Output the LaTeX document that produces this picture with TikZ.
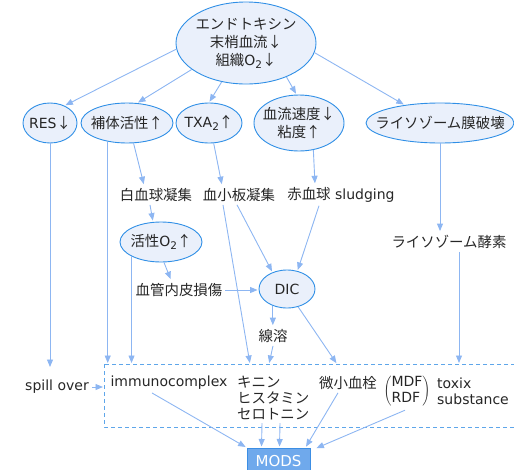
\documentclass[tikz,border=0pt]{standalone}
\usepackage{fontspec}
\setmainfont{DejaVu Sans}
\newfontfamily\jp{Noto Sans CJK JP}[Scale=1.03]
\usetikzlibrary{arrows.meta,shapes.geometric,calc}
\definecolor{linkc}{HTML}{8DB6F2}
\definecolor{ellline}{HTML}{2F8FE6}
\definecolor{ellfill}{HTML}{EAF0FB}
\definecolor{modsfill}{HTML}{6FA9EC}
\definecolor{modsline}{HTML}{3C8EE4}
\definecolor{dashc}{HTML}{5EA6EA}
\definecolor{txtc}{HTML}{262626}
\newcommand{\subtwo}{\raisebox{-0.35ex}{\fontsize{10.5}{10.5}\selectfont 2}}
\newcommand{\Otwo}{{\rmfamily O\subtwo}}
\begin{document}
\begin{tikzpicture}[x=1pt,y=-1pt, font=\fontsize{14}{18}\selectfont, text=txtc,
  ell/.style={ellipse, draw=ellline, fill=ellfill, line width=0.9pt, inner sep=0pt},
  lbl/.style={align=center, inner sep=0pt, text=txtc},
  txt/.style={inner sep=3pt, align=center},
  conn/.style={draw=linkc, line width=0.9pt, -{Triangle[length=7.5pt,width=6pt]}, shorten >=1pt},
]
\useasboundingbox (0,0) rectangle (514,469);
\clip (0,0) rectangle (514,469);

% ellipse nodes
\node[ell, minimum width=140pt, minimum height=82pt,
  label={[lbl]center:{\jp エンドトキシン\\\jp 末梢血流↓\\\jp 組織\Otwo↓}}] (top) at (246,43) {};
\node[ell, minimum width=54pt, minimum height=40pt, label={[lbl]center:{RES{\jp ↓}}}] (res) at (50,123) {};
\node[ell, minimum width=92pt, minimum height=40pt, label={[lbl]center:{\jp 補体活性↑}}] (hotai) at (127,123) {};
\node[ell, minimum width=66pt, minimum height=40pt, label={[lbl]center:{TXA\subtwo{\jp ↑}}}] (txa) at (209,123) {};
\node[ell, minimum width=90pt, minimum height=56pt, label={[lbl]center:{\jp 血流速度↓\\\jp 粘度↑}}] (ketsu) at (299,123) {};
\node[ell, minimum width=148pt, minimum height=40pt, label={[lbl]center:{\jp ライソゾーム膜破壊}}] (lyso) at (440,123) {};
\node[ell, minimum width=82pt, minimum height=40pt, label={[lbl]center:{\jp 活性\Otwo↑}}] (kassei) at (161,242) {};
\node[ell, minimum width=56pt, minimum height=38pt, label={[lbl]center:{DIC}}] (dic) at (287,289) {};

% text nodes
\node[txt] (hakk) at (156,195) {\jp 白血球凝集};
\node[txt] (kesho) at (239,195) {\jp 血小板凝集};
\node[txt] (sekke) at (341,195) {{\jp 赤血球} sludging};
\node[txt] (kekkan) at (179,290) {\jp 血管内皮損傷};
\node[txt] (senyo) at (273,336) {\jp 線溶};
\node[txt] (lysoenz) at (449,242) {\jp ライソゾーム酵素};
\node[txt] (spill) at (57,387) {spill over};
\node[txt] (immuno) at (169,383) {immunocomplex};
\node[txt, anchor=west, align=left, font=\fontsize{14}{16}\selectfont] (kinin) at (234,398) {\jp キニン\\\jp ヒスタミン\\\jp セロトニン};
\node[txt] (micro) at (348,383) {\jp 微小血栓};
\node[txt] (mdf) at (407,391) {$\left(\vcenter{\hbox{\fontsize{14}{16}\selectfont\begin{tabular}{@{}l@{}}MDF\\RDF\end{tabular}}}\right)$};
\node[txt, anchor=west, align=left, font=\fontsize{14}{16}\selectfont] (toxix) at (434,391) {toxix\\substance};
\node[draw=modsline, fill=modsfill, line width=1pt, minimum width=63pt, minimum height=26pt, inner sep=0pt, text=white, font=\fontsize{15}{18}\selectfont] (mods) at (278.5,461) {MODS};

% dashed box
\draw[dashc, line width=0.9pt, dash pattern=on 4pt off 3pt] (104,364) rectangle (530,427);
\coordinate (btop) at (0,364);
\coordinate (spilltop) at (0,368);
\coordinate (bleft) at (104,387);
\coordinate (in1) at (250,364);
\coordinate (in2) at (269,364);
\coordinate (in3) at (337,364);
\coordinate (in4) at (459,364);

% connectors
\draw[conn] (top.185) -- (res.50);
\draw[conn] (top.206) -- (hotai.63);
\draw[conn] (top.238) -- (txa.90);
\draw[conn] (top.320) -- (ketsu.95);
\draw[conn] (top.352) -- (lyso.153);
\draw[conn] (res.south) -- (res.south |- spilltop);
\draw[conn] (hotai.224) -- (hotai.224 |- btop);
\draw[conn] (hotai.288) -- ($(hakk.north)+(-12,0)$);
\draw[conn] ($(hakk.south)+(-6,0)$) -- ($(kassei.north)+(-8,0)$);
\draw[conn] ($(kassei.south)+(3,0)$) -- ($(kekkan.north)+(-8,0)$);
\draw[conn] (kassei.206) -- (kassei.206 |- btop);
\draw[conn] (kekkan.east) -- (kekkan.east -| dic.west);
\draw[conn] (txa.283) -- ($(kesho.north)+(-17,0)$);
\draw[conn] ($(kesho.south)+(-16,0)$) -- (in1);
\draw[conn] ($(kesho.south)+(-2,0)$) -- (dic.131);
\draw[conn] (ketsu.298) -- ($(sekke.north)+(-26,0)$);
\draw[conn] ($(sekke.south)+(-22,0)$) -- (dic.60);
\draw[conn] (dic.230) -- (dic.230 |- senyo.north);
\draw[conn] (senyo.south) -- (in2);
\draw[conn] (dic.302) -- (in3);
\draw[conn] (lyso.south) -- (lyso.south |- lysoenz.north);
\draw[conn] ($(lysoenz.south)+(10,0)$) -- (in4);
\draw[conn] (spill.east) -- (bleft);
\draw[conn] ($(immuno.south)+(-17,0)$) -- (mods.north west);
\draw[conn] ($(kinin.south west)+(28,0)$) -- ($(mods.north west)+(15,0)$);
\draw[conn] ($(kinin.south west)+(46,0)$) -- ($(mods.north west)+(33,0)$);
\draw[conn] ($(micro.south)+(-10,0)$) -- ($(mods.north east)+(-5,0)$);
\draw[conn] ($(mdf.south)+(-2,0)$) -- ($(mods.north east)+(5,1)$);
\end{tikzpicture}
\end{document}
